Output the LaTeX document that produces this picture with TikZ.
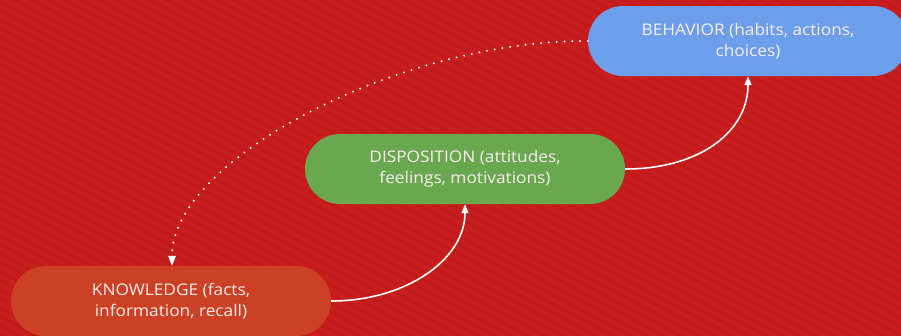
\documentclass[tikz,border=0pt]{standalone}
\usepackage{fontspec}
\setmainfont[FakeStretch=1.08]{Open Sans}
\usetikzlibrary{shapes.misc,arrows.meta}
\definecolor{bgred}{HTML}{CA1E1E}
\definecolor{stripe}{HTML}{C21B1B}
\definecolor{knowc}{HTML}{CC4125}
\definecolor{dispc}{HTML}{6AA84F}
\definecolor{behc}{HTML}{6D9EEB}
\definecolor{txtc}{HTML}{F6EEEC}
\tikzset{
  pill/.style={rounded rectangle, minimum width=320pt, minimum height=70pt,
    inner sep=0pt, align=center, text=txtc,
    font=\fontsize{16pt}{21pt}\selectfont},
  flow/.style={draw=white, line width=1.6pt, -{Triangle[width=7pt,length=9pt]}},
  dots/.style={draw=white, line width=2.2pt, line cap=round,
    dash pattern=on 0pt off 7.8pt, -{Triangle[width=8pt,length=10pt,line width=0pt]}}
}
\begin{document}
\begin{tikzpicture}[x=1pt,y=-1pt]
\useasboundingbox (0,0) rectangle (901,335);
\fill[bgred] (-10,-10) rectangle (911,345);
\foreach \c in {-490,-481,...,350}{
  \draw[stripe, line width=3.5pt] (-10,\c) -- (911,\c+489);
}
\node[pill, fill=knowc] (know) at (171,301) {KNOWLEDGE (facts,\\information, recall)};
\node[pill, fill=dispc] (disp) at (465,169) {DISPOSITION (attitudes,\\feelings, motivations)};
\node[pill, fill=behc] (beh) at (748,41) {BEHAVIOR (habits, actions,\\choices)};
\draw[flow] (know.east) .. controls +(75,0) and +(0,55) .. (disp.south);
\draw[flow] (disp.east) .. controls +(75,0) and +(0,55) .. (beh.south);
\draw[dots] (beh.west) .. controls (400,40) and (172,160) .. (know.north -| 172,0);
\end{tikzpicture}
\end{document}
